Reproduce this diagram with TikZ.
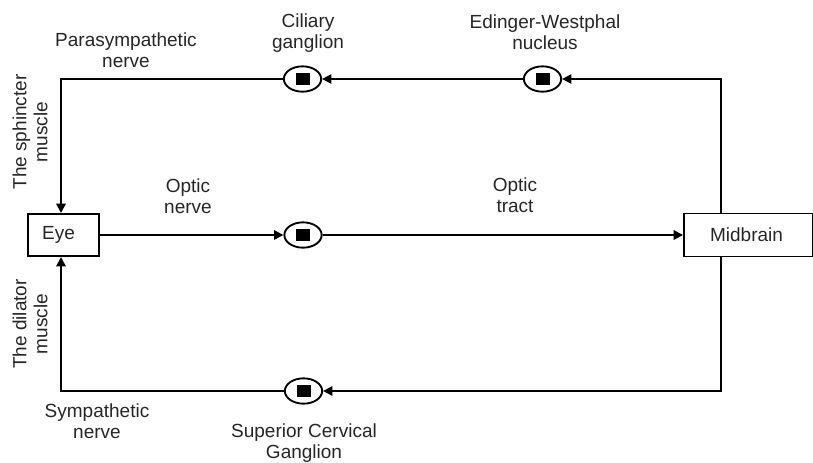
\documentclass[tikz,border=0pt]{standalone}
\usepackage{fontspec}
\setmainfont{Liberation Sans}
\usetikzlibrary{arrows.meta,shapes.geometric}
\begin{document}
\begin{tikzpicture}[x=0.75pt,y=-0.75pt,line width=1.4pt,
  font=\fontsize{14.25}{15.75}\selectfont,
  box/.style={draw,rectangle,inner sep=0pt},
  gang/.style={draw,ellipse,fill=white,minimum width=28pt,minimum height=19pt,inner sep=0pt},
  core/.style={fill=black,minimum width=10.5pt,minimum height=9pt,inner sep=0pt},
  lbl/.style={align=center,inner sep=0pt,text=black!85},
  arr/.style={-{Triangle[length=7pt,width=7pt]}}]
\useasboundingbox (0,0) rectangle (813,462);

% boxes
\node[box,minimum width=53.3pt,minimum height=31.6pt] (eye) at (63.5,235) {};
\node[lbl] (eyetext) at (58.5,235) {Eye};
\node[box,minimum width=96.8pt,minimum height=32.3pt] (mid) at (748.5,235) {};
\node[lbl] (midtext) at (746.5,235) {Midbrain};

% ganglia
\node[gang] (cil) at (302.5,79) {};
\node[core] (cilc) at (cil) {};
\node[gang] (ew) at (542.5,79) {};
\node[core] (ewc) at (ew) {};
\node[gang] (opt) at (303,235) {};
\node[core] (optc) at (opt) {};
\node[gang] (scg) at (303.5,391) {};
\node[core] (scgc) at (scg) {};

% corners of the loop
\coordinate (tl) at (61,79);
\coordinate (tr) at (721,79);
\coordinate (bl) at (61,391);
\coordinate (br) at (721,391);

% pathways
\draw[arr] (mid.north -| tr) -- (tr) -- (ew);
\draw[arr] (ew) -- (cil);
\draw[arr] (cil) -- (tl) -- (tl |- eye.north);
\draw[arr] (eye) -- (opt);
\draw[arr] (opt) -- (mid);
\draw[arr] (mid.south -| br) -- (br) -- (scg);
\draw[arr] (scg) -- (bl) -- (bl |- eye.south);

% labels
\node[lbl] (lpara) at (126,50) {Parasympathetic\\nerve};
\node[lbl] (lcil) at (308,33) {Ciliary\\ganglion};
\node[lbl] (lew) at (545,32) {Edinger-Westphal\\nucleus};
\node[lbl,rotate=90] (lsph) at (30,132) {The sphincter\\muscle};
\node[lbl] (lon) at (188,196) {Optic\\nerve};
\node[lbl] (lot) at (515,195) {Optic\\tract};
\node[lbl,rotate=90] (ldil) at (30,324) {The dilator\\muscle};
\node[lbl] (lsym) at (97,421) {Sympathetic\\nerve};
\node[lbl] (lscg) at (304,443) {Superior Cervical\\Ganglion};
\end{tikzpicture}
\end{document}
